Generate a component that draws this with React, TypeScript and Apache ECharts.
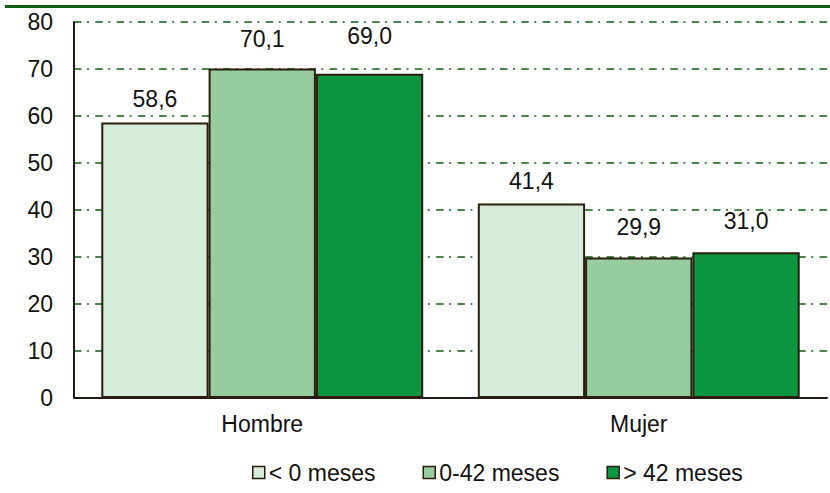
import React, { useEffect, useRef } from "react";
import * as echarts from "echarts";

const categories = ["Hombre", "Mujer"];
const seriesNames = ["< 0 meses", "0-42 meses", "> 42 meses"];
const seriesValues = [
  [58.6, 41.4],
  [70.1, 29.9],
  [69.0, 31.0],
];
const yTicks = { min: 0, max: 80, interval: 10 };

const colors = ["#d4ecd9", "#96cc9e", "#0e9541"];
const labelDistances = [
  [12, 11],
  [18, 19],
  [26, 20],
];

const FONT = "'Liberation Sans', Arial, sans-serif";

export default function App() {
  const ref = useRef<HTMLDivElement>(null);
  useEffect(() => {
    document.body.style.margin = "0";
    const chart = echarts.init(ref.current!, undefined, { renderer: "svg" });
    chart.setOption({
      animation: false,
      backgroundColor: "#ffffff",
      textStyle: { fontFamily: FONT },
      grid: { left: 74, right: 3, top: 22, bottom: 95, containLabel: false },
      legend: {
        left: 247,
        top: 456,
        itemWidth: 12,
        itemHeight: 12,
        itemGap: 47,
        icon: "rect",
        itemStyle: { borderColor: "#2b1d0e", borderWidth: 1.5 },
        textStyle: { fontSize: 23, color: "#111", fontFamily: FONT, padding: [0, 0, 0, -1] },
        data: seriesNames,
      },
      xAxis: {
        type: "category",
        data: categories,
        axisLine: { lineStyle: { color: "#231a14", width: 2 } },
        axisTick: { show: false },
        axisLabel: { fontSize: 23, color: "#111", margin: 14, fontFamily: FONT },
      },
      yAxis: {
        type: "value",
        min: yTicks.min,
        max: yTicks.max,
        interval: yTicks.interval,
        axisLine: { show: true, lineStyle: { color: "#231a14", width: 2 } },
        axisTick: { show: false },
        axisLabel: { fontSize: 23, color: "#111", margin: 21, fontFamily: FONT },
        splitLine: {
          show: true,
          lineStyle: { color: "#0f5f0f", width: 1.6, type: [7.5, 5.5, 2, 6.3] },
        },
      },
      series: seriesNames.map((name, i) => ({
        name,
        type: "bar",
        barGap: "0%",
        barCategoryGap: "14.5%",
        itemStyle: { color: colors[i], borderColor: "#2b1d0e", borderWidth: 2 },
        label: {
          show: true,
          position: "top",
          fontSize: 23,
          color: "#111",
          fontFamily: FONT,
          formatter: (p: any) => Number(p.value).toFixed(1).replace(".", ","),
        },
        data: seriesValues[i].map((v, j) => ({
          value: v,
          label: { distance: labelDistances[i][j] },
        })),
      })),
      graphic: [
        {
          type: "rect",
          shape: { x: 5, y: 5, width: 825, height: 3 },
          style: { fill: "#0f5f0f" },
          silent: true,
        },
      ],
    });
    return () => chart.dispose();
  }, []);
  return (
    <div
      ref={ref}
      style={{ position: "absolute", left: 0, top: 0, width: 830, height: 493 }}
    />
  );
}
